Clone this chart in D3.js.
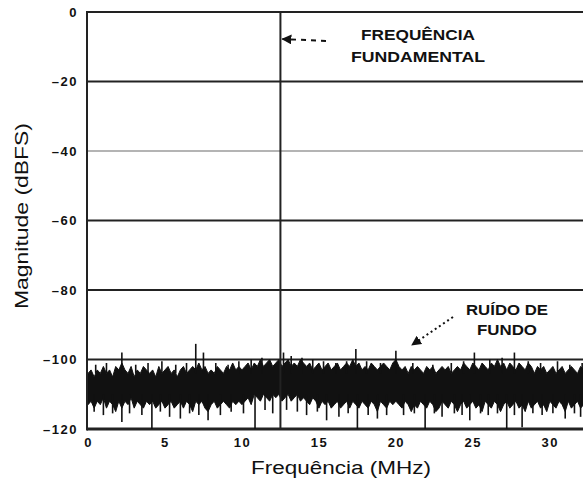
<!DOCTYPE html>
<html>
<head>
<meta charset="utf-8">
<script src="https://cdn.jsdelivr.net/npm/d3@7"></script>
<style>
  body { margin: 0; background: #fff; }
  svg { display: block; }
  text { font-family: "Liberation Sans", Arial, sans-serif; fill: #111; }
</style>
</head>
<body>
<svg id="svg-fft"></svg>
<script>
var width = 583,
    height = 481;

// tick labels
var yTicks = [0, -20, -40, -60, -80, -100, -120],
    xTicks = [0, 5, 10, 15, 20, 25, 30];

// fundamental tone
var fundamental = [[12.5, 0]];

// noise floor, sampled every 0.2 MHz from 0 MHz: upper and lower edge of the band (dBFS)
var noiseStep = 0.2;
var noiseTop = [
  -104,-103,-105,-103,-104,-102,-104,-103,-105,-102,-103,
  -101,-103,-104,-102,-105,-103,-104,-102,-103,-104,
  -103,-105,-102,-104,-103,-102,-104,-103,-105,-103,
  -102,-104,-103,-102,-103,-101,-103,-102,-104,-103,
  -104,-102,-103,-104,-102,-103,-101,-103,-102,-103,
  -102,-101,-103,-101,-102,-100,-102,-101,-100,-102,
  -101,-100,-102,-101,-100,-102,-101,-102,-100,-101,
  -102,-101,-103,-102,-101,-103,-102,-101,-103,-102,
  -101,-103,-102,-101,-102,-100,-102,-101,-103,-102,
  -103,-101,-102,-103,-102,-101,-102,-103,-101,-100,
  -102,-103,-102,-104,-102,-103,-102,-103,-104,-102,
  -103,-102,-104,-103,-102,-103,-102,-104,-103,-102,
  -103,-101,-102,-103,-101,-102,-103,-101,-102,-103,
  -101,-102,-100,-102,-101,-103,-101,-102,-103,-101,
  -102,-103,-101,-102,-104,-102,-103,-102,-104,-103,
  -102,-104,-103,-102,-104,-103,-102,-103,-104,-102,-103,-104
];
var noiseBottom = [
  -113,-112,-114,-112,-113,-111,-114,-112,-113,-115,-112,
  -114,-112,-113,-111,-114,-112,-113,-114,-112,-113,
  -112,-114,-113,-112,-114,-113,-112,-114,-113,-112,
  -114,-112,-113,-115,-112,-113,-112,-114,-115,-113,
  -112,-114,-113,-112,-113,-114,-112,-113,-112,-113,
  -112,-111,-113,-110,-111,-112,-110,-111,-112,-110,
  -111,-110,-112,-111,-110,-112,-111,-110,-112,-111,
  -112,-113,-111,-112,-114,-112,-113,-112,-114,-113,
  -112,-114,-113,-112,-114,-112,-113,-114,-112,-113,
  -114,-112,-113,-115,-112,-113,-114,-112,-113,-112,
  -113,-114,-112,-113,-115,-113,-114,-112,-113,-114,
  -112,-113,-115,-114,-112,-113,-114,-112,-113,-115,
  -113,-112,-114,-113,-112,-114,-113,-115,-112,-113,
  -114,-112,-113,-115,-113,-112,-114,-113,-112,-114,
  -113,-115,-112,-114,-113,-112,-114,-113,-115,-112,
  -113,-114,-112,-113,-115,-112,-114,-113,-112,-114,-113,-112
];

// spurs sticking out of the band [MHz, dBFS]
var spursUp = [
  [0.5,-101.5],[1.2,-101],[2.2,-98],[3.1,-101.5],[3.9,-101],[4.8,-100.5],
  [5.7,-101.5],[6.4,-101],[7.0,-95.5],[7.5,-98],[8.3,-101],[9.1,-101.5],
  [9.8,-100.5],[10.6,-100],[11.3,-99.5],[12.7,-98],[13.2,-99],[13.9,-99.5],
  [14.6,-100],[15.3,-100.5],[16.1,-101],[16.8,-100.5],[17.4,-97],[18.1,-100.5],
  [19.0,-101],[20.0,-97.5],[21.1,-101],[22.4,-101.5],[23.6,-101],[24.4,-100.5],
  [25.1,-98],[26.1,-100],[26.9,-99.5],[27.7,-98],[28.6,-100.5],[29.4,-101],
  [30.5,-100.5],[31.3,-101.5],[32.1,-101]
];
var spursDown = [
  [0.4,-115],[1.0,-116],[1.6,-115.5],[2.2,-118],[2.7,-115.5],[3.5,-116],
  [4.15,-120],[4.7,-115],[5.3,-116.5],[6.0,-117],[6.6,-115.5],[7.2,-116],
  [7.8,-117.5],[8.6,-116],[9.3,-115],[10.1,-115.5],[10.85,-120],[11.5,-114.5],
  [12.0,-115.5],[12.9,-114.5],[13.6,-115],[14.2,-116],[14.9,-115],[15.5,-117.5],
  [16.3,-116.5],[16.9,-115.5],[17.5,-120],[18.2,-116],[18.8,-117],[19.4,-116],
  [20.5,-116],[21.2,-115.5],[21.9,-120],[22.5,-115.5],[23.0,-116.5],[23.8,-115.5],
  [24.3,-116],[24.8,-117.5],[25.5,-115.5],[26.0,-116],[26.6,-115.5],[27.2,-120],
  [27.7,-116],[28.2,-119.5],[28.9,-115.5],[29.5,-116],[30.2,-115.5],[31.0,-117],
  [31.6,-115.5],[32.0,-116.5]
];

var x = d3.scaleLinear().domain([0, 33]).range([88, 596]),
    y = d3.scaleLinear().domain([-120, 0]).range([429, 12]);

var svg = d3.select('#svg-fft')
  .attr('width', width)
  .attr('height', height);

svg.append('defs').append('clipPath')
  .attr('id', 'plot-clip')
  .append('rect')
  .attr('x', x(0)).attr('y', y(0) - 2)
  .attr('width', width - x(0)).attr('height', y(-120) - y(0) + 4);

// grid
svg.append('g')
  .selectAll('line')
  .data(yTicks)
  .enter().append('line')
  .attr('x1', x(0) - 1)
  .attr('x2', width)
  .attr('y1', d => y(d))
  .attr('y2', d => y(d))
  .attr('stroke', d => d === -40 ? '#b4b4b4' : '#222')
  .attr('stroke-width', d => d === -120 ? 3 : 2);

var plot = svg.append('g').attr('clip-path', 'url(#plot-clip)');

// noise floor band
var noise = noiseTop.map((t, i) => ({f: i * noiseStep, top: t, bottom: noiseBottom[i]}));
plot.append('path')
  .datum(noise)
  .attr('d', d3.area()
    .x(d => x(d.f))
    .y0(d => y(d.bottom))
    .y1(d => y(d.top)))
  .attr('fill', '#111')
  .attr('stroke', '#111')
  .attr('stroke-width', 1);

plot.append('g')
  .selectAll('line')
  .data(spursUp)
  .enter().append('line')
  .attr('x1', d => x(d[0])).attr('x2', d => x(d[0]))
  .attr('y1', y(-104)).attr('y2', d => y(d[1]))
  .attr('stroke', '#111')
  .attr('stroke-width', 1.6);

plot.append('g')
  .selectAll('line')
  .data(spursDown)
  .enter().append('line')
  .attr('x1', d => x(d[0])).attr('x2', d => x(d[0]))
  .attr('y1', y(-110)).attr('y2', d => y(d[1]))
  .attr('stroke', '#111')
  .attr('stroke-width', 1.6);

// fundamental
plot.selectAll('.fund')
  .data(fundamental)
  .enter().append('line')
  .attr('class', 'fund')
  .attr('x1', d => x(d[0])).attr('x2', d => x(d[0]))
  .attr('y1', y(-120)).attr('y2', d => y(d[1]))
  .attr('stroke', '#222')
  .attr('stroke-width', 2);

// left axis line
svg.append('line')
  .attr('x1', x(0) - 1).attr('x2', x(0) - 1)
  .attr('y1', y(0) - 1).attr('y2', y(-120) + 1.5)
  .attr('stroke', '#222')
  .attr('stroke-width', 2);

// y tick labels
var yAxis = svg.append('g')
  .attr('transform', 'translate(' + (x(0) - 10) + ',0)')
  .call(d3.axisLeft(y).tickValues(yTicks).tickSize(0).tickPadding(0)
    .tickFormat(d => d === 0 ? '0' : '\u2013' + Math.abs(d)));
yAxis.select('.domain').remove();
yAxis.selectAll('text')
  .style('font-family', '"Liberation Sans", Arial, sans-serif')
  .style('font-size', '13px')
  .style('font-weight', 'bold')
  .style('letter-spacing', '1.5px')
  .attr('fill', '#111');

// x tick labels
var xAxis = svg.append('g')
  .attr('transform', 'translate(0,' + (y(-120) + 9) + ')')
  .call(d3.axisBottom(x).tickValues(xTicks).tickSize(0).tickPadding(0));
xAxis.select('.domain').remove();
xAxis.selectAll('text')
  .style('font-family', '"Liberation Sans", Arial, sans-serif')
  .style('font-size', '13px')
  .style('font-weight', 'bold')
  .style('letter-spacing', '1.5px')
  .attr('fill', '#111');

// axis titles
svg.append('text')
  .attr('x', 341)
  .attr('y', 474)
  .attr('text-anchor', 'middle')
  .attr('textLength', 180)
  .attr('lengthAdjust', 'spacingAndGlyphs')
  .style('font-size', '18px')
  .text('Frequência (MHz)');

svg.append('text')
  .attr('transform', 'translate(28,216) rotate(-90)')
  .attr('text-anchor', 'middle')
  .attr('textLength', 186)
  .attr('lengthAdjust', 'spacingAndGlyphs')
  .style('font-size', '18px')
  .text('Magnitude (dBFS)');

// annotations
var notes = svg.append('g')
  .style('font-size', '14px')
  .style('font-weight', 'bold');
notes.append('text').attr('x', 418).attr('y', 40)
  .attr('text-anchor', 'middle').attr('textLength', 114)
  .attr('lengthAdjust', 'spacingAndGlyphs').text('FREQUÊNCIA');
notes.append('text').attr('x', 418).attr('y', 62)
  .attr('text-anchor', 'middle').attr('textLength', 134)
  .attr('lengthAdjust', 'spacingAndGlyphs').text('FUNDAMENTAL');
notes.append('text').attr('x', 507).attr('y', 315)
  .attr('text-anchor', 'middle').attr('textLength', 82)
  .attr('lengthAdjust', 'spacingAndGlyphs').text('RUÍDO DE');
notes.append('text').attr('x', 507).attr('y', 335)
  .attr('text-anchor', 'middle').attr('textLength', 60)
  .attr('lengthAdjust', 'spacingAndGlyphs').text('FUNDO');

svg.append('defs').append('marker')
  .attr('id', 'arrowhead')
  .attr('viewBox', '0 0 10 10')
  .attr('refX', 9).attr('refY', 5)
  .attr('markerWidth', 10).attr('markerHeight', 10)
  .attr('markerUnits', 'userSpaceOnUse')
  .attr('orient', 'auto')
  .append('path')
  .attr('d', 'M0,0L10,5L0,10Z')
  .attr('fill', '#111');

svg.append('line')
  .attr('x1', 326).attr('y1', 41)
  .attr('x2', x(fundamental[0][0]) + 2).attr('y2', 39)
  .attr('stroke', '#111')
  .attr('stroke-width', 2)
  .attr('stroke-dasharray', '5,5')
  .attr('marker-end', 'url(#arrowhead)');

svg.append('line')
  .attr('x1', 453).attr('y1', 317)
  .attr('x2', 412).attr('y2', 345)
  .attr('stroke', '#111')
  .attr('stroke-width', 2)
  .attr('stroke-dasharray', '2,3')
  .attr('marker-end', 'url(#arrowhead)');
</script>
</body>
</html>
